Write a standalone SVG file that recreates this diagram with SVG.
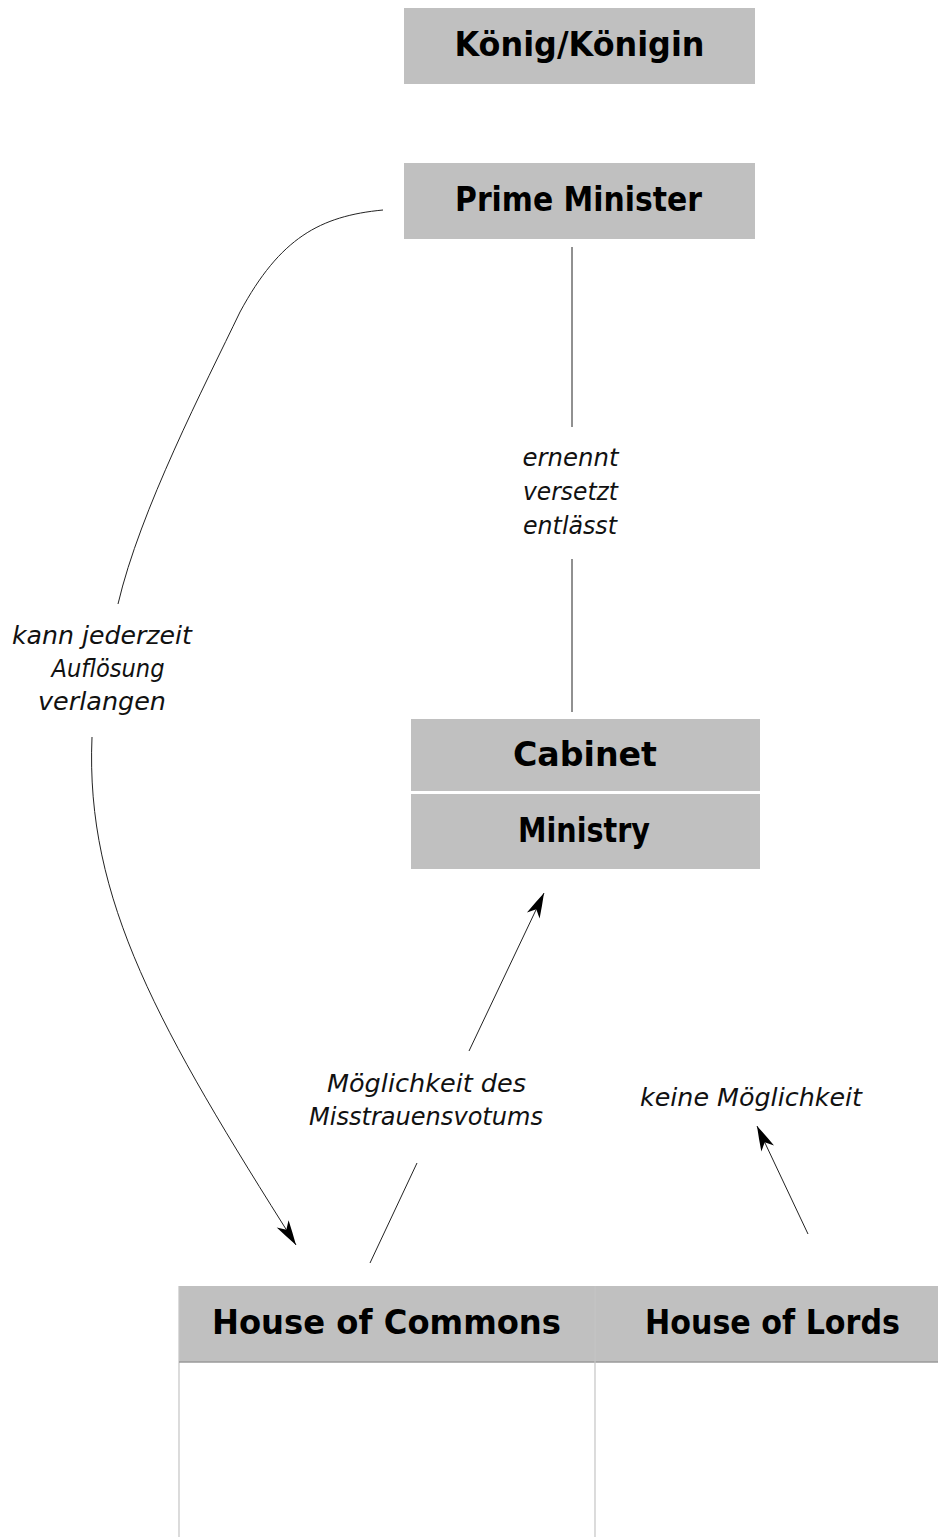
<svg xmlns="http://www.w3.org/2000/svg" width="938" height="1537" viewBox="0 0 938 1537">
  <style>
    .box { fill: #c0c0c0; }
    .title { font-family: "DejaVu Sans", "Liberation Sans", sans-serif; font-weight: bold; font-size: 33px; fill: #000; text-anchor: middle; }
    .lbl { font-family: "DejaVu Sans", "Liberation Sans", sans-serif; font-style: italic; font-size: 24px; fill: #111; text-anchor: middle; }
    .con { fill: none; stroke: #222; stroke-width: 1; }
    .grid { stroke: #c4c4c4; stroke-width: 1.2; fill: none; }
  </style>
  <defs>
    <marker id="arr" markerUnits="userSpaceOnUse" markerWidth="28" markerHeight="16" viewBox="0 0 28 16" refX="26" refY="8" orient="auto">
      <path d="M26,8 Q13,4 1,1 L8,8 L1,15 Q13,12 26,8 Z" fill="#000"/>
    </marker>
  </defs>
  <rect width="938" height="1537" fill="#fff"/>

  <g id="koenig">
    <rect class="box" x="404" y="8" width="351" height="76"/>
    <text class="title" x="579.5" y="56" textLength="250" lengthAdjust="spacingAndGlyphs">König/Königin</text>
  </g>

  <g id="prime-minister">
    <rect class="box" x="404" y="163" width="351" height="76"/>
    <text class="title" x="578.5" y="211" textLength="247" lengthAdjust="spacingAndGlyphs">Prime Minister</text>
  </g>

  <g id="cabinet">
    <rect class="box" x="411" y="719" width="349" height="72"/>
    <text class="title" x="585" y="766" textLength="144" lengthAdjust="spacingAndGlyphs">Cabinet</text>
  </g>

  <g id="ministry">
    <rect class="box" x="411" y="794" width="349" height="75"/>
    <text class="title" x="584" y="842" textLength="132" lengthAdjust="spacingAndGlyphs">Ministry</text>
  </g>

  <g id="house-of-commons">
    <rect class="box" x="179" y="1286" width="416" height="76"/>
    <line class="grid" x1="179" y1="1286" x2="179" y2="1537"/>
    <text class="title" x="386.5" y="1334" textLength="349" lengthAdjust="spacingAndGlyphs">House of Commons</text>
  </g>

  <g id="house-of-lords">
    <rect class="box" x="595" y="1286" width="343" height="76"/>
    <text class="title" x="772.5" y="1334" textLength="255" lengthAdjust="spacingAndGlyphs">House of Lords</text>
  </g>

  <g id="table-lines">
    <line x1="179" y1="1362" x2="938" y2="1362" stroke="#9a9a9a" stroke-width="1.5"/>
    <line class="grid" x1="595" y1="1286" x2="595" y2="1537"/>
  </g>

  <g id="connectors">
    <line class="con" x1="572" y1="247" x2="572" y2="427"/>
    <line class="con" x1="572" y1="559" x2="572" y2="712"/>
    <path class="con" d="M383,210 C320,216 280,238 240,312 C205,385 140,510 118,604"/>
    <path class="con" d="M92,737 C85,900 160,1030 296,1245" marker-end="url(#arr)"/>
    <line class="con" x1="469" y1="1051" x2="544" y2="893" marker-end="url(#arr)"/>
    <line class="con" x1="370" y1="1263" x2="417" y2="1163"/>
    <line class="con" x1="808" y1="1234" x2="757" y2="1126" marker-end="url(#arr)"/>
  </g>

  <g id="labels">
    <text class="lbl" x="570.5" y="466" textLength="96" lengthAdjust="spacingAndGlyphs">ernennt</text>
    <text class="lbl" x="570.5" y="500" textLength="95" lengthAdjust="spacingAndGlyphs">versetzt</text>
    <text class="lbl" x="570" y="534" textLength="94" lengthAdjust="spacingAndGlyphs">entlässt</text>
    <text class="lbl" x="102" y="644" textLength="180" lengthAdjust="spacingAndGlyphs">kann jederzeit</text>
    <text class="lbl" x="108" y="677" textLength="113" lengthAdjust="spacingAndGlyphs">Auflösung</text>
    <text class="lbl" x="102" y="710" textLength="128" lengthAdjust="spacingAndGlyphs">verlangen</text>
    <text class="lbl" x="426.5" y="1092" textLength="199" lengthAdjust="spacingAndGlyphs">Möglichkeit des</text>
    <text class="lbl" x="426" y="1125" textLength="234" lengthAdjust="spacingAndGlyphs">Misstrauensvotums</text>
    <text class="lbl" x="751" y="1106" textLength="222" lengthAdjust="spacingAndGlyphs">keine Möglichkeit</text>
  </g>
</svg>
